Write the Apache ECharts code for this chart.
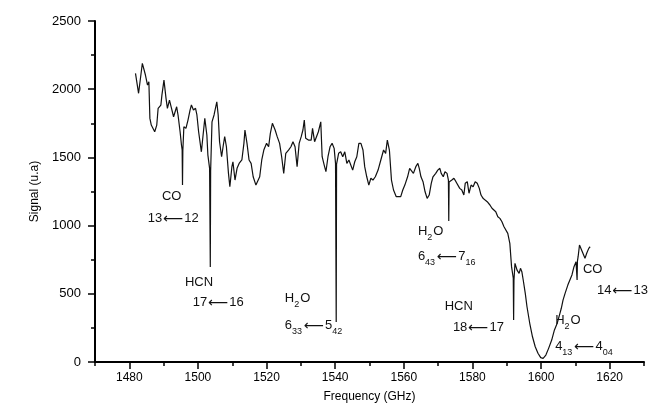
<!DOCTYPE html>
<html>
<head>
<meta charset="utf-8">
<script src="https://cdn.jsdelivr.net/npm/echarts@6/dist/echarts.min.js"></script>
<style>
html,body{margin:0;padding:0;background:#fff;}
#chart{width:655px;height:413px;}
</style>
</head>
<body>
<div id="chart"></div>
<script>
// ---- data: spectrum (frequency in GHz, signal in u.a) ----
var freq = [
1481.8,1482.7,1483.8,1484.7,1485.3,1485.7,1486.0,1486.4,1487.4,1488.0,
1488.4,1489.2,1489.5,1490.1,1490.7,1491.1,1491.7,1492.3,1492.9,1493.4,
1493.8,1494.2,1494.8,1495.2,1495.4,1495.5,1495.6,1495.9,1496.5,1497.1,
1497.7,1498.1,1498.7,1499.3,1499.7,1500.2,1501.0,1501.6,1502.0,1502.6,
1502.9,1503.4,1503.6,1503.7,1504.1,1504.7,1505.5,1505.9,1506.3,1506.9,
1507.4,1507.8,1508.3,1508.9,1509.3,1509.9,1510.2,1510.8,1511.4,1512.0,
1512.8,1513.4,1513.7,1514.3,1514.9,1515.5,1516.1,1516.9,1517.4,1518.0,
1518.6,1519.2,1520.0,1520.6,1521.1,1521.7,1522.5,1523.1,1523.8,1524.4,
1525.0,1525.6,1526.4,1527.1,1527.7,1528.3,1528.9,1529.5,1530.1,1530.6,
1531.0,1531.4,1532.2,1533.0,1533.4,1534.0,1534.5,1535.1,1535.8,1536.2,
1536.8,1537.3,1537.9,1538.5,1539.1,1539.7,1540.1,1540.3,1540.4,1541.0,
1541.6,1542.2,1542.8,1543.4,1544.0,1544.5,1545.1,1545.7,1546.3,1546.9,
1547.5,1548.1,1548.6,1549.2,1549.8,1550.4,1551.0,1551.7,1552.5,1553.3,
1554.1,1554.7,1555.2,1555.8,1556.4,1557.0,1557.8,1558.5,1559.1,1559.7,
1560.3,1561.1,1561.7,1562.2,1562.8,1563.5,1564.1,1564.5,1565.0,1565.6,
1566.2,1566.8,1567.4,1568.0,1568.5,1569.3,1569.9,1570.5,1570.9,1571.5,
1572.0,1572.6,1573.0,1573.1,1573.2,1573.4,1574.0,1574.6,1575.2,1575.7,
1576.3,1576.9,1577.5,1577.9,1578.5,1579.0,1579.6,1580.2,1580.8,1581.4,
1582.0,1582.5,1583.1,1583.7,1584.3,1585.1,1585.7,1586.2,1586.8,1587.4,
1588.0,1588.6,1589.2,1589.7,1590.3,1590.9,1591.4,1591.9,1592.0,1592.1,
1592.4,1593.0,1593.6,1594.0,1594.4,1594.8,1595.4,1595.9,1596.7,1597.5,
1598.3,1599.1,1599.9,1600.6,1601.4,1602.2,1603.1,1603.9,1604.7,1605.5,
1605.9,1606.4,1607.0,1607.8,1608.4,1609.0,1609.6,1610.2,1610.5,1610.6,
1610.8,1611.2,1611.6,1612.2,1612.8,1613.3,1613.9,1614.3
];
var signal = [
2116,1970,2190,2104,2030,2055,1786,1737,1688,1737,
1860,1884,1957,2067,1933,1860,1920,1860,1798,1811,
1871,1811,1688,1591,1554,1298,1550,1725,1713,1774,
1847,1884,1847,1860,1811,1688,1541,1688,1786,1664,
1517,1420,696,1400,1761,1811,1908,1811,1615,1505,
1591,1652,1578,1383,1285,1432,1468,1334,1420,1456,
1481,1603,1701,1603,1481,1456,1358,1297,1285,1358,
1481,1554,1603,1578,1676,1750,1701,1652,1603,1505,
1383,1530,1554,1578,1615,1578,1432,1603,1652,1701,
1774,1640,1627,1627,1713,1615,1603,1688,1761,1505,
1444,1395,1505,1578,1603,1566,1456,293,1450,1530,
1541,1505,1541,1456,1481,1493,1407,1468,1505,1603,
1603,1554,1432,1358,1297,1347,1334,1358,1407,1481,
1554,1530,1627,1554,1334,1261,1212,1212,1212,1261,
1297,1358,1420,1432,1383,1432,1456,1420,1358,1322,
1248,1200,1224,1310,1358,1383,1407,1420,1383,1358,
1395,1383,1334,1034,1320,1310,1334,1347,1322,1310,
1273,1261,1224,1310,1322,1237,1297,1285,1322,1310,
1273,1224,1200,1187,1175,1151,1127,1114,1102,1065,
1053,1028,992,980,943,870,699,614,308,600,
723,674,650,687,662,601,503,405,284,185,
112,64,32,27,51,100,161,235,284,357,
394,454,503,564,601,638,699,735,601,740,
772,858,870,797,760,797,833,845
];
// axis ticks
var xMajorTicks = [1480,1500,1520,1540,1560,1580,1600,1620];
var yTicks = [0,500,1000,1500,2000,2500];

// ---- annotations (rich text, anchored at data coordinates) ----
var annoText = [
  '{m|CO}',
  '{m|13}{a|⟵}{m|12}',
  '{m|HCN}',
  '{m|17}{a|⟵}{m|16}',
  '{m|H}{s|2}{m|O}',
  '{m|6}{s|33}{a|⟵}{m|5}{s|42}',
  '{m|H}{s|2}{m|O}',
  '{m|6}{s|43}{a|⟵}{m|7}{s|16}',
  '{m|HCN}',
  '{m|18}{a|⟵}{m|17}',
  '{m|CO}',
  '{m|14}{a|⟵}{m|13}',
  '{m|H}{s|2}{m|O}',
  '{m|4}{s|13}{a|⟵}{m|4}{s|04}'
];
var annoFreq = [1489.5,1485.4,1496.2,1498.5,1525.3,1525.3,1564.1,1564.1,1571.9,1574.3,1612.2,1616.3,1604.1,1604.1];
var annoSignal = [1209,1048,579,432,462,264,953,770,403,249,674,520,301,110];

var FONT = '"Liberation Sans", Arial, Helvetica, sans-serif';
var chart = echarts.init(document.getElementById('chart'), null, {renderer: 'canvas'});

var seriesData = freq.map(function (f, i) { return [f, signal[i]]; });
var plain = function (v) { return String(v); };

var axisColor = '#000';
chart.setOption({
  animation: false,
  backgroundColor: '#fff',
  grid: {left: 95, right: 11, top: 21, bottom: 51, containLabel: false},
  xAxis: [{
    type: 'value', min: 1470, max: 1630, interval: 10,
    position: 'bottom',
    name: 'Frequency (GHz)', nameLocation: 'middle', nameGap: 29,
    nameTextStyle: {fontFamily: FONT, fontSize: 12, color: '#000'},
    axisLine: {show: true, onZero: false, lineStyle: {color: axisColor, width: 2}},
    axisTick: {show: true, inside: false, length: 4, lineStyle: {color: axisColor, width: 1.5}},
    axisLabel: {show: false},
    splitLine: {show: false}
  }, {
    type: 'value', min: 1470, max: 1630, interval: 10,
    position: 'bottom', offset: 0,
    axisLine: {show: false, onZero: false},
    axisTick: {show: true, inside: false, length: 7, customValues: xMajorTicks, lineStyle: {color: axisColor, width: 1.5}},
    axisLabel: {show: true, customValues: xMajorTicks, formatter: plain, margin: 10, fontFamily: FONT, fontSize: 12, color: '#000'},
    splitLine: {show: false}
  }],
  yAxis: {
    type: 'value', min: 0, max: 2500, interval: 500,
    name: 'Signal (u.a)', nameLocation: 'middle', nameGap: 51, nameRotate: 90,
    nameTextStyle: {fontFamily: FONT, fontSize: 12, color: '#000'},
    axisLine: {show: true, onZero: false, lineStyle: {color: axisColor, width: 2}},
    axisTick: {show: true, inside: false, length: 7, customValues: yTicks, lineStyle: {color: axisColor, width: 1.5}},
    minorTick: {show: true, splitNumber: 2, length: 4, lineStyle: {color: axisColor, width: 1.5}},
    axisLabel: {margin: 14, formatter: plain, fontFamily: FONT, fontSize: 13, color: '#000'},
    splitLine: {show: false},
    minorSplitLine: {show: false}
  },
  series: [{
    type: 'line',
    xAxisIndex: 0, yAxisIndex: 0,
    data: seriesData,
    showSymbol: false,
    symbol: 'none',
    lineStyle: {color: '#111', width: 1.2},
    silent: true
  }]
});

var rich = {
  m: {fontFamily: FONT, fontSize: 13, color: '#111', lineHeight: 14, verticalAlign: 'top'},
  s: {fontFamily: FONT, fontSize: 9, color: '#111', lineHeight: 10, padding: [8, 1, 0, 0], verticalAlign: 'top'},
  a: {fontFamily: '"DejaVu Sans", sans-serif', fontSize: 14, color: '#111', lineHeight: 14, padding: [0, 1, 0, 1], verticalAlign: 'top'}
};

var graphics = annoText.map(function (t, i) {
  var p = chart.convertToPixel({xAxisIndex: 0, yAxisIndex: 0}, [annoFreq[i], annoSignal[i]]);
  return {
    type: 'text',
    x: p[0], y: p[1],
    silent: true,
    style: {text: t, rich: rich, align: 'left', verticalAlign: 'middle', fill: '#111'}
  };
});
chart.setOption({graphic: graphics});
</script>
</body>
</html>
